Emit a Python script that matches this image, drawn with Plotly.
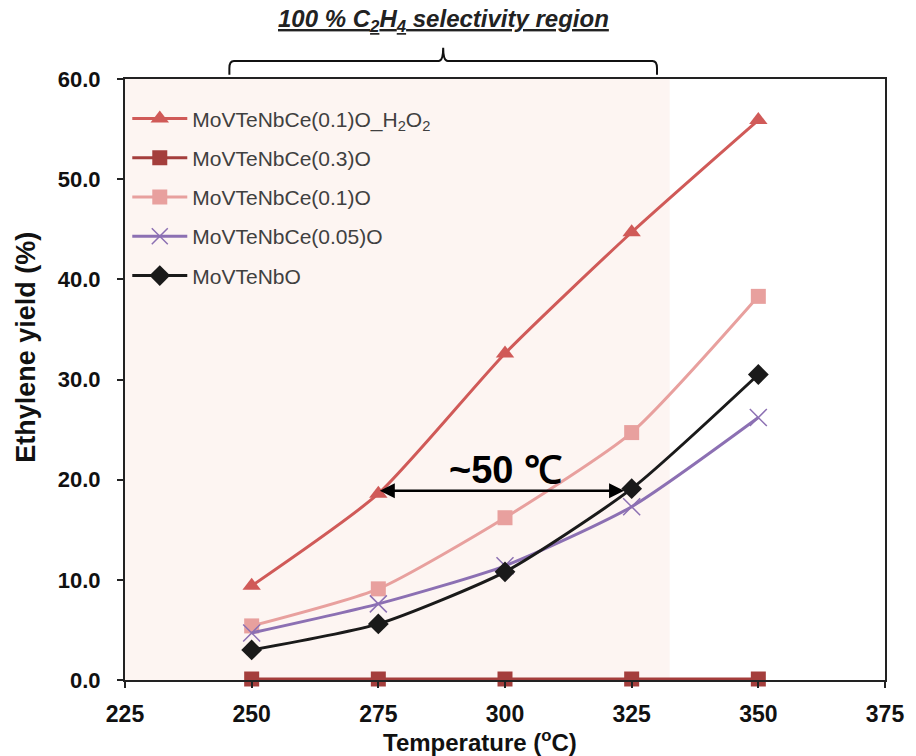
import plotly.graph_objects as go

temps = [250, 275, 300, 325, 350]
names = ["MoVTeNbCe(0.1)O_H<sub>2</sub>O<sub>2</sub>", "MoVTeNbCe(0.3)O", "MoVTeNbCe(0.1)O",
         "MoVTeNbCe(0.05)O", "MoVTeNbO"]
y_h2o2 = [9.4, 18.6, 32.6, 44.7, 55.9]
y_ce03 = [0.1, 0.1, 0.1, 0.1, 0.1]
y_ce01 = [5.4, 9.1, 16.2, 24.7, 38.3]
y_ce005 = [4.7, 7.6, 11.4, 17.3, 26.2]
y_base = [3.0, 5.6, 10.8, 19.1, 30.5]
colors = ["#d05a58", "#a43e3c", "#e8a09e", "#8c70b3", "#1a1a1a"]
symbols = ["triangle-up", "square", "square", "x-thin", "diamond"]
sizes = [16, 15, 15, 17, 16]
series = [y_h2o2, y_ce03, y_ce01, y_ce005, y_base]

x_ticks = [225, 250, 275, 300, 325, 350, 375]
y_ticks = [0, 10, 20, 30, 40, 50, 60]
x_range = [225, 375]
y_range = [0, 60]
region = [225, 332.5]
bracket = [245.6, 330]
arrow_from, arrow_to, arrow_y = 275, 323.5, 18.9
FONT = "Liberation Sans, Arial"

fig = go.Figure()
for i, (nm, ys, c, s, sz) in enumerate(zip(names, series, colors, symbols, sizes)):
    mk = dict(color=c, size=sz, symbol=s)
    if s == "x-thin":
        mk["line"] = dict(color=c, width=1.5)
    fig.add_trace(go.Scatter(x=temps, y=ys, name=nm, mode="lines+markers", legendgroup=f"g{i}",
                             line=dict(color=c, width=3, shape="spline", smoothing=0.6),
                             marker=mk, cliponaxis=False))

fig.add_shape(type="rect", xref="x", yref="y", x0=region[0], x1=region[1], y0=y_range[0], y1=y_range[1],
              fillcolor="#fdf5f2", line=dict(width=0), layer="below")

def px(v):
    return (v - x_range[0]) / (x_range[1] - x_range[0])

xa, xb = px(bracket[0]), px(bracket[1])
xm = (xa + xb) / 2
yb, yt, ytip = 1.007, 1.03, 1.052
r = 0.006
path = (f"M {xa},{yb} L {xa},{yt-0.012} Q {xa},{yt} {xa+r},{yt} L {xm-r},{yt} Q {xm},{yt} {xm},{ytip} "
        f"Q {xm},{yt} {xm+r},{yt} L {xb-r},{yt} Q {xb},{yt} {xb},{yt-0.012} L {xb},{yb}")
fig.add_shape(type="path", xref="paper", yref="paper", path=path, line=dict(color="#111111", width=2))

fig.add_annotation(xref="paper", yref="paper", x=xm, y=1.068, yanchor="bottom", xanchor="center", showarrow=False,
                   text="<u><i><b>100 % C<sub>2</sub>H<sub>4</sub> selectivity region</b></i></u>",
                   font=dict(size=24, color="#222222", family=FONT))

fig.add_annotation(x=arrow_to, y=arrow_y, ax=arrow_from, ay=arrow_y, xref="x", yref="y", axref="x", ayref="y",
                   showarrow=True, arrowhead=2, startarrowhead=2, arrowside="end+start", arrowsize=1.2,
                   arrowwidth=2.5, arrowcolor="#000000", text="")
fig.add_annotation(x=300, y=21.0, xref="x", yref="y", showarrow=False, text="<b>~50 ℃</b>",
                   xanchor="center", yanchor="middle", font=dict(size=38, color="#000000", family=FONT))

# axis titles (placed as in the reference, slightly off-centre)
fig.add_annotation(xref="paper", yref="paper", x=0.467, y=-0.1015, xanchor="center", yanchor="middle",
                   showarrow=False, text="<b>Temperature (<sup>o</sup>C)</b>",
                   font=dict(family=FONT, size=24, color="#111111"))
fig.add_annotation(xref="paper", yref="paper", x=-0.1307, y=0.554, xanchor="center", yanchor="middle",
                   showarrow=False, textangle=-90,
                   text="<b>Ethylene yield (%)</b>", font=dict(family=FONT, size=27, color="#111111"))

fig.update_xaxes(range=x_range, tickmode="array", tickvals=x_ticks, ticktext=[f"<b>{v}</b>" for v in x_ticks],
                 showgrid=False, zeroline=False, showline=True, linecolor="#222222", linewidth=2,
                 mirror=True, ticks="outside", ticklen=6, tickwidth=1.5, tickcolor="#222222",
                 ticklabelstandoff=6,
                 tickfont=dict(family=FONT, size=23, color="#111111"))
fig.update_yaxes(range=y_range, tickmode="array", tickvals=y_ticks, ticktext=[f"<b>{v:.1f}</b>" for v in y_ticks],
                 showgrid=False, zeroline=False, showline=True, linecolor="#222222", linewidth=2,
                 mirror=True, ticks="outside", ticklen=6, tickwidth=1.5, tickcolor="#222222",
                 ticklabelstandoff=12,
                 tickfont=dict(family=FONT, size=22, color="#111111"))

fig.update_layout(width=916, height=756, margin=dict(l=125, r=26, t=79, b=76),
                  plot_bgcolor="#ffffff", paper_bgcolor="#ffffff",
                  legend=dict(x=0.003, y=0.968, xanchor="left", yanchor="top", bgcolor="rgba(255,255,255,0)",
                              font=dict(family=FONT, size=21, color="#404040"),
                              tracegroupgap=9, itemwidth=55, traceorder="grouped"),
                  showlegend=True)

fig.write_html("out.html")
